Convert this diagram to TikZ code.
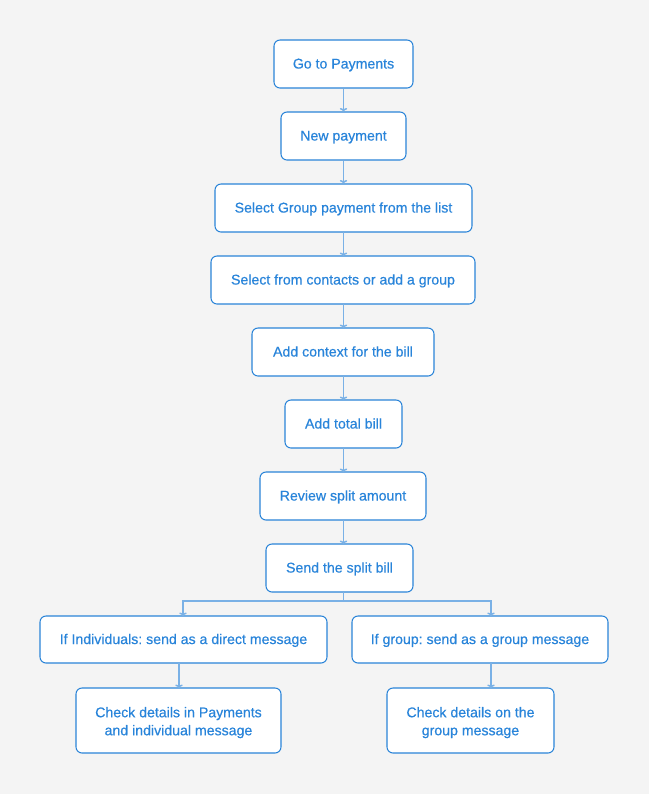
\documentclass[tikz,border=0pt]{standalone}
\usepackage{fontspec}
\setmainfont{Liberation Sans}
\newfontfamily\medfont[FakeBold=0.45]{Liberation Sans}
\usetikzlibrary{arrows.meta}
\definecolor{bg}{HTML}{F4F4F4}
\definecolor{boxline}{HTML}{2A84D8}
\definecolor{txt}{HTML}{2884DA}
\definecolor{conn}{HTML}{7AB1E6}
\begin{document}
\frenchspacing
\begin{tikzpicture}[x=0.75pt,y=-0.75pt,
  stepbox/.style={draw=boxline,fill=white,rounded corners=4.5pt,line width=0.8pt,
    text=txt,font=\medfont\fontsize{10.6}{13.5}\selectfont,align=center,inner sep=0pt,
    minimum height=36pt,text height=9pt,text depth=2.2pt},
  twoline/.style={stepbox,text height={},text depth={},minimum height=48.75pt},
  conn/.style={draw=conn,line width=1.1pt,-{To[length=2.6pt,width=5.5pt]}}]
\fill[bg] (0,0) rectangle (649,794);
\useasboundingbox (0,0) rectangle (649,794);
\node[stepbox,minimum width=104.25pt] (n1) at (343.5,64) {Go to Payments};
\node[stepbox,minimum width=93.75pt] (n2) at (343.5,136) {New payment};
\node[stepbox,minimum width=192.75pt] (n3) at (343.5,208) {Select Group payment from the list};
\node[stepbox,minimum width=198pt] (n4) at (343,280) {Select from contacts or add a group};
\node[stepbox,minimum width=136.5pt] (n5) at (343,352) {Add context for the bill};
\node[stepbox,minimum width=87.75pt] (n6) at (343.5,424) {Add total bill};
\node[stepbox,minimum width=124.5pt] (n7) at (343,496) {Review split amount};
\node[stepbox,minimum width=110.25pt] (n8) at (339.5,568) {Send the split bill};
\node[stepbox,minimum width=215.25pt,minimum height=35.25pt] (n9) at (183.5,639.5) {If Individuals: send as a direct message};
\node[stepbox,minimum width=192pt,minimum height=35.25pt] (n10) at (480,639.5) {If group: send as a group message};
\node[twoline,minimum width=153.75pt] (n11) at (178.5,720.5) {\rule{0pt}{10.8pt}Check details in Payments\\and individual message};
\node[twoline,minimum width=125.25pt] (n12) at (470.5,720.5) {\rule{0pt}{10.8pt}Check details on the\\group message};
\coordinate (split) at (343.5,601);
\draw[conn] (n1.south) -- (n2.north);
\draw[conn] (n2.south) -- (n3.north);
\draw[conn] (343.5,232) -- (343.5,256);
\draw[conn] (343.5,304) -- (343.5,328);
\draw[conn] (343.5,376) -- (343.5,400);
\draw[conn] (343.5,448) -- (343.5,472);
\draw[conn] (343.5,520) -- (343.5,544);
\draw[draw=conn,line width=1.1pt] (343.5,592) -- (split);
\draw[conn] (split) -| (183,616);
\draw[conn] (split) -| (491,616);
\draw[conn] (179,663) -- (179,688);
\draw[conn] (491,663) -- (491,688);
\end{tikzpicture}
\end{document}
